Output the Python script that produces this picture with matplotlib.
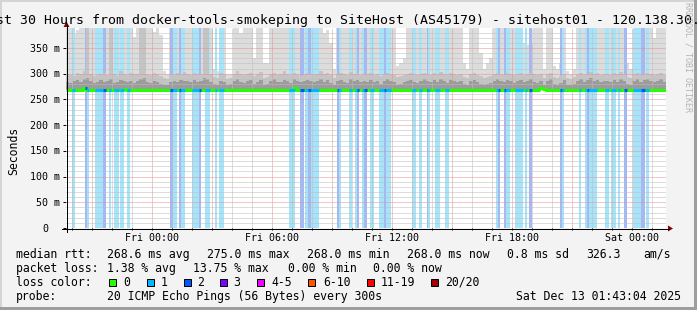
import numpy as np
import matplotlib
matplotlib.use("Agg")
import matplotlib.pyplot as plt
from matplotlib.patches import Rectangle, Polygon
from datetime import datetime, timedelta

# ------------------------------------------------------------------ data
title = ("Last 30 Hours from docker-tools-smokeping to SiteHost (AS45179)"
         " - sitehost01 - 120.138.30.10")
end_time = datetime(2025, 12, 13, 1, 43, 4)
span_min = 30 * 60          # 30 hours shown
bin_min = 10                # one value per 10 minutes below
y_max = 389                 # ms at top of graph

# median rtt (ms), 10-minute bins
median_ms = [
    268, 268, 268, 268, 268, 273, 268, 268, 268, 268, 268, 268, 268, 268, 268, 268, 268, 270,
    268, 268, 268, 268, 268, 268, 268, 268, 268, 268, 268, 268, 268, 268, 268, 268, 268, 268,
    268, 268, 268, 268, 268, 268, 268, 268, 268, 268, 268, 268, 268, 268, 268, 268, 268, 268,
    268, 268, 268, 268, 268, 268, 268, 268, 268, 268, 268, 268, 268, 268, 273, 268, 268, 268,
    268, 268, 268, 268, 268, 268, 268, 268, 268, 268, 268, 268, 268, 268, 268, 268, 268, 268,
    268, 268, 268, 268, 268, 268, 268, 268, 268, 268, 268, 268, 268, 268, 268, 268, 268, 268,
    268, 268, 268, 268, 268, 268, 268, 268, 268, 268, 268, 268, 268, 268, 268, 268, 268, 268,
    268, 268, 268, 268, 268, 268, 268, 268, 268, 268, 268, 268, 268, 268, 268, 268, 272, 271,
    268, 268, 268, 268, 268, 268, 268, 268, 268, 268, 268, 268, 268, 268, 268, 268, 268, 268,
    268, 268, 268, 268, 268, 268, 268, 268, 268, 268, 268, 268, 268, 268, 268, 268, 268, 268,
]
# highest ping of the 20 (ms)
smoke_max = [
    390, 390, 378, 385, 390, 390, 390, 390, 390, 390, 390, 390, 390, 370, 390, 390, 390, 390,
    390, 390, 372, 390, 390, 390, 390, 390, 382, 390, 376, 305, 300, 390, 390, 390, 390, 390,
    390, 390, 390, 390, 390, 390, 390, 390, 310, 305, 390, 390, 300, 300, 390, 390, 380, 390,
    390, 390, 330, 390, 390, 320, 320, 390, 390, 390, 390, 390, 390, 390, 390, 390, 390, 390,
    390, 390, 390, 390, 390, 380, 385, 360, 310, 390, 390, 390, 390, 390, 390, 390, 390, 390,
    390, 390, 390, 390, 390, 390, 390, 390, 390, 315, 320, 330, 390, 390, 390, 390, 390, 390,
    390, 390, 390, 390, 390, 390, 390, 390, 390, 390, 390, 320, 310, 390, 390, 390, 340, 310,
    320, 330, 390, 390, 390, 390, 390, 390, 390, 360, 360, 360, 355, 360, 390, 390, 390, 310,
    390, 390, 315, 310, 320, 390, 305, 300, 310, 390, 390, 390, 390, 390, 390, 390, 390, 390,
    390, 390, 390, 390, 390, 390, 320, 310, 390, 390, 390, 390, 390, 390, 370, 390, 390, 390,
]
# upper smoke band (ms)
smoke_p90 = [
    300, 298, 296, 302, 300, 305, 390, 300, 296, 298, 300, 302, 298, 390, 300, 296, 305, 300,
    298, 302, 300, 300, 390, 390, 300, 298, 302, 300, 296, 292, 290, 300, 298, 302, 300, 304,
    300, 298, 302, 300, 300, 390, 390, 300, 294, 292, 302, 300, 290, 292, 300, 305, 300, 298,
    300, 302, 296, 300, 304, 292, 294, 300, 302, 298, 300, 305, 300, 298, 302, 300, 296, 300,
    302, 300, 298, 300, 305, 300, 302, 298, 292, 300, 302, 300, 298, 304, 300, 302, 298, 300,
    300, 302, 298, 300, 296, 300, 302, 300, 298, 294, 296, 298, 300, 302, 300, 298, 300, 302,
    300, 298, 302, 300, 304, 300, 298, 302, 300, 298, 300, 294, 292, 300, 302, 298, 296, 292,
    294, 296, 300, 302, 300, 298, 302, 300, 298, 300, 302, 298, 300, 302, 300, 298, 300, 292,
    300, 302, 294, 292, 296, 300, 292, 290, 294, 300, 302, 298, 300, 304, 300, 302, 298, 300,
    300, 298, 302, 300, 304, 300, 294, 292, 300, 302, 298, 300, 302, 300, 298, 300, 302, 298,
]
# dense smoke core (ms)
smoke_p75 = [
    284, 282, 286, 288, 283, 290, 292, 285, 282, 284, 287, 283, 286, 290, 282, 284, 288, 285,
    283, 286, 282, 285, 290, 292, 284, 282, 286, 283, 281, 279, 278, 284, 286, 283, 288, 285,
    286, 283, 288, 284, 286, 291, 290, 284, 280, 279, 286, 284, 278, 280, 285, 289, 284, 282,
    285, 288, 281, 284, 287, 279, 280, 286, 289, 284, 283, 288, 285, 282, 290, 286, 283, 285,
    288, 285, 283, 286, 290, 284, 287, 282, 279, 286, 288, 284, 282, 289, 285, 287, 283, 286,
    284, 287, 283, 285, 281, 286, 289, 285, 283, 279, 281, 283, 286, 288, 284, 282, 286, 289,
    285, 283, 288, 284, 290, 286, 282, 287, 285, 283, 286, 280, 279, 285, 288, 284, 281, 279,
    280, 282, 286, 289, 285, 283, 288, 286, 282, 285, 288, 284, 286, 289, 284, 282, 286, 279,
    286, 289, 281, 279, 282, 287, 279, 278, 281, 286, 290, 284, 287, 291, 285, 288, 283, 286,
    285, 283, 288, 284, 290, 286, 280, 279, 286, 289, 284, 287, 290, 285, 283, 286, 289, 284,
]
# packet-loss periods: minutes from window start, and lost pings (of 20)
loss_start = [18, 57, 63, 87, 111, 129, 144, 162, 183, 312, 321, 339, 345, 378, 399,
              417, 447, 459, 669, 702, 717, 726, 735, 813, 819, 849, 867, 873, 888, 894,
              912, 939, 954, 960, 1038, 1059, 1083, 1086, 1107, 1137, 1290, 1296, 1314,
              1320, 1347, 1377, 1389, 1482, 1488, 1539, 1557, 1563, 1569, 1617, 1635,
              1656, 1674, 1701, 1725, 1740]
loss_end = [27, 63, 69, 111, 120, 135, 159, 174, 192, 321, 333, 345, 357, 399, 405,
            432, 453, 474, 687, 714, 726, 735, 759, 819, 825, 858, 873, 879, 894, 903,
            924, 954, 960, 975, 1050, 1068, 1086, 1092, 1122, 1149, 1296, 1302, 1320,
            1332, 1371, 1383, 1398, 1488, 1494, 1545, 1563, 1569, 1593, 1629, 1650,
            1662, 1683, 1725, 1737, 1749]
loss_pings = [1, 2, 1, 1, 2, 1, 1, 1, 1, 2, 1, 2, 1, 1, 2,
              1, 1, 1, 1, 2, 1, 2, 1, 2, 1, 1, 1, 2, 1, 2,
              1, 1, 2, 1, 1, 1, 2, 1, 1, 1, 1, 2, 2,
              1, 1, 1, 2, 2, 1, 1, 1, 2, 1, 1, 1,
              1, 2, 1, 2, 1]

y_ticks = [0, 50, 100, 150, 200, 250, 300, 350]
y_tick_labels = ["0  ", "50 m", "100 m", "150 m", "200 m", "250 m", "300 m", "350 m"]

legend_names = ["0", "1", "2", "3", "4-5", "6-10", "11-19", "20/20"]
legend_colors = ["#26ff00", "#00b8ff", "#0059ff", "#7e00ff", "#ee00ff",
                 "#ff5500", "#ff0000", "#a10000"]
stats_rtt = ["268.6 ms avg", "275.0 ms max", "268.0 ms min", "268.0 ms now",
             "0.8 ms sd", "326.3", "am/s"]
stats_loss = ["1.38 % avg", "13.75 % max", "0.00 % min", "0.00 % now"]
probe_text = "20 ICMP Echo Pings (56 Bytes) every 300s"
stamp_text = "Sat Dec 13 01:43:04 2025"

# ------------------------------------------------------------------ layout
W, H = 697, 310
PL, PR, PT, PB = 66, 666, 28, 228
MONO = "DejaVu Sans Mono"
plt.rcParams["font.family"] = [MONO]
plt.rcParams["lines.scale_dashes"] = False

fig = plt.figure(figsize=(W / 100, H / 100), dpi=100)
fig.patch.set_facecolor("#f3f3f3")
ax = fig.add_axes([PL / W, 1 - PB / H, (PR - PL) / W, (PB - PT) / H])
ax.set_facecolor("white")
ax.set_xlim(0, span_min)
ax.set_ylim(0, y_max)
for s in ax.spines.values():
    s.set_visible(False)

n = len(median_ms)
edges = np.arange(n + 1) * bin_min
med = np.asarray(median_ms, float)


def ext(a):
    a = np.asarray(a, float)
    return np.append(a, a[-1])


# smoke (outer)
ax.fill_between(edges, ext(med), ext(smoke_max), step="post",
                color="#dcdcdc", lw=0, zorder=1)
# loss background
loss_fill = {1: "#a6e4fa", 2: "#a4b8f6"}
for s, e, p in zip(loss_start, loss_end, loss_pings):
    ax.axvspan(s, e, color=loss_fill[p], lw=0, zorder=1.5)
# smoke (inner)
ax.fill_between(edges, ext(med), ext(smoke_p90), step="post",
                color="#c4c4c4", lw=0, zorder=2)
ax.fill_between(edges, ext(med), ext(smoke_p75), step="post",
                color="#9c9c9c", lw=0, zorder=2.2)

# grid
start_time = end_time - timedelta(minutes=span_min)
t = start_time.replace(minute=0, second=0) + timedelta(hours=1)
hours = []
while t < end_time:
    hours.append(t)
    t += timedelta(hours=1)


def xm(tt):
    return (tt - start_time).total_seconds() / 60.0


PX = 72 / 100  # one pixel in points
DOT = (0, (PX, PX))
for tt in hours:
    major = tt.hour % 3 == 0
    ax.axvline(xm(tt), color="#e49090" if major else "#bdbdbd", lw=PX,
               ls=DOT, zorder=3)
for v in range(10, y_max, 10):
    major = v % 50 == 0
    ax.axhline(v, color="#e49090" if major else "#bdbdbd", lw=PX,
               ls=DOT, zorder=3)

# median line coloured by loss
ax.step(edges, ext(med), where="post", color="#26ff00", lw=2.2, zorder=4,
        solid_capstyle="butt")
loss_line = {1: "#00b8ff", 2: "#0059ff"}
for s, e, p in zip(loss_start, loss_end, loss_pings):
    i = min(int(s // bin_min), n - 1)
    ax.hlines(med[i], s, e, colors=loss_line[p], lw=2.2, zorder=4.5)

# ticks
ax.set_xticks([xm(tt) for tt in hours])
ax.set_yticks(y_ticks)
ax.tick_params(axis="x", direction="out", length=1.5, width=PX, labelbottom=False)
ax.tick_params(axis="y", direction="out", length=2.2, width=PX, labelleft=False)

cw_tick = 7.2 * 100 / 72 * 0.602
for v, lab in zip(y_ticks, y_tick_labels):
    ax.annotate(lab.rstrip(), xy=(0, v), xycoords=("axes fraction", "data"),
                xytext=(60.5 - len(lab) * cw_tick - PL, -3.6),
                textcoords="offset pixels", ha="left", va="baseline",
                fontsize=7.2, family=MONO)
for tt in hours:
    if tt.hour % 6 == 0:
        ax.annotate(tt.strftime("%a %H:%M"), xy=(xm(tt), 0), xycoords="data",
                    xytext=(0, -12.7), textcoords="offset pixels",
                    ha="center", va="baseline", fontsize=7.2, family=MONO)

# overlay in pixel coordinates for frame, axes and legend
ov = fig.add_axes([0, 0, 1, 1], zorder=10)
ov.set_xlim(0, W)
ov.set_ylim(H, 0)
ov.axis("off")
ov.patch.set_visible(False)

ov.add_patch(Rectangle((0, 0), W, 2, color="#d4d4d4", lw=0))
ov.add_patch(Rectangle((0, 0), 2, H, color="#d4d4d4", lw=0))
ov.add_patch(Rectangle((0, H - 3), W, 3, color="#9e9e9e", lw=0))
ov.add_patch(Rectangle((W - 3, 0), 3, H, color="#9e9e9e", lw=0))

ov.plot([PL - 4, PR + 3], [PB + 0.5, PB + 0.5], color="black", lw=PX,
        antialiased=False)
ov.plot([PL + 0.5, PL + 0.5], [PB + 4, PT - 3], color="black", lw=PX,
        antialiased=False)
ov.add_patch(Polygon([(PR + 2, PB - 2.5), (PR + 7, PB + 0.5), (PR + 2, PB + 3.5)],
                     closed=True, color="#8b0000", lw=0))
ov.add_patch(Polygon([(PL - 2.5, PT - 1), (PL + 0.5, PT - 6.5), (PL + 3.5, PT - 1)],
                     closed=True, color="#8b0000", lw=0))

ov.text(348.5, 24.2, title, ha="center", va="baseline", fontsize=9.5,
        family=MONO, color="black")
ov.text(13.5, 127, "Seconds", rotation=90, ha="right", va="center",
        fontsize=8.3, family=MONO, rotation_mode="anchor")
ov.text(688, 2, "RRDTOOL / TOBI OETIKER", rotation=270, ha="center", va="top",
        fontsize=6, family=MONO, color="#b4b4b4")

FS = 8.3
b1, b2, b3, b4 = 257.6, 271.6, 285.8, 299.6
ov.text(16, b1, "median rtt:", fontsize=FS, va="baseline", family=MONO)
for x, s in zip([107, 207, 307, 407, 507, 586, 643], stats_rtt):
    ov.text(x, b1, s, fontsize=FS, va="baseline", family=MONO)
ov.text(16, b2, "packet loss:", fontsize=FS, va="baseline", family=MONO)
for x, s in zip([107, 193, 288, 373], stats_loss):
    ov.text(x, b2, s, fontsize=FS, va="baseline", family=MONO)
ov.text(16, b3, "loss color:", fontsize=FS, va="baseline", family=MONO)
for bx, tx, name, col in zip([108, 146, 183, 219, 256, 307, 366, 430],
                             [123, 161, 197, 233, 271, 323, 381, 445],
                             legend_names, legend_colors):
    ov.add_patch(Rectangle((bx + 0.5, 278.5), 7.5, 7.5, facecolor=col,
                           edgecolor="black", lw=PX))
    ov.text(tx, b3, name, fontsize=FS, va="baseline", family=MONO)
ov.text(16, b4, "probe:", fontsize=FS, va="baseline", family=MONO)
ov.text(107, b4, probe_text, fontsize=FS, va="baseline", family=MONO)
ov.text(680.5, b4, stamp_text, fontsize=FS, va="baseline", ha="right", family=MONO)

fig.savefig("out.png", dpi=100, facecolor=fig.get_facecolor())
